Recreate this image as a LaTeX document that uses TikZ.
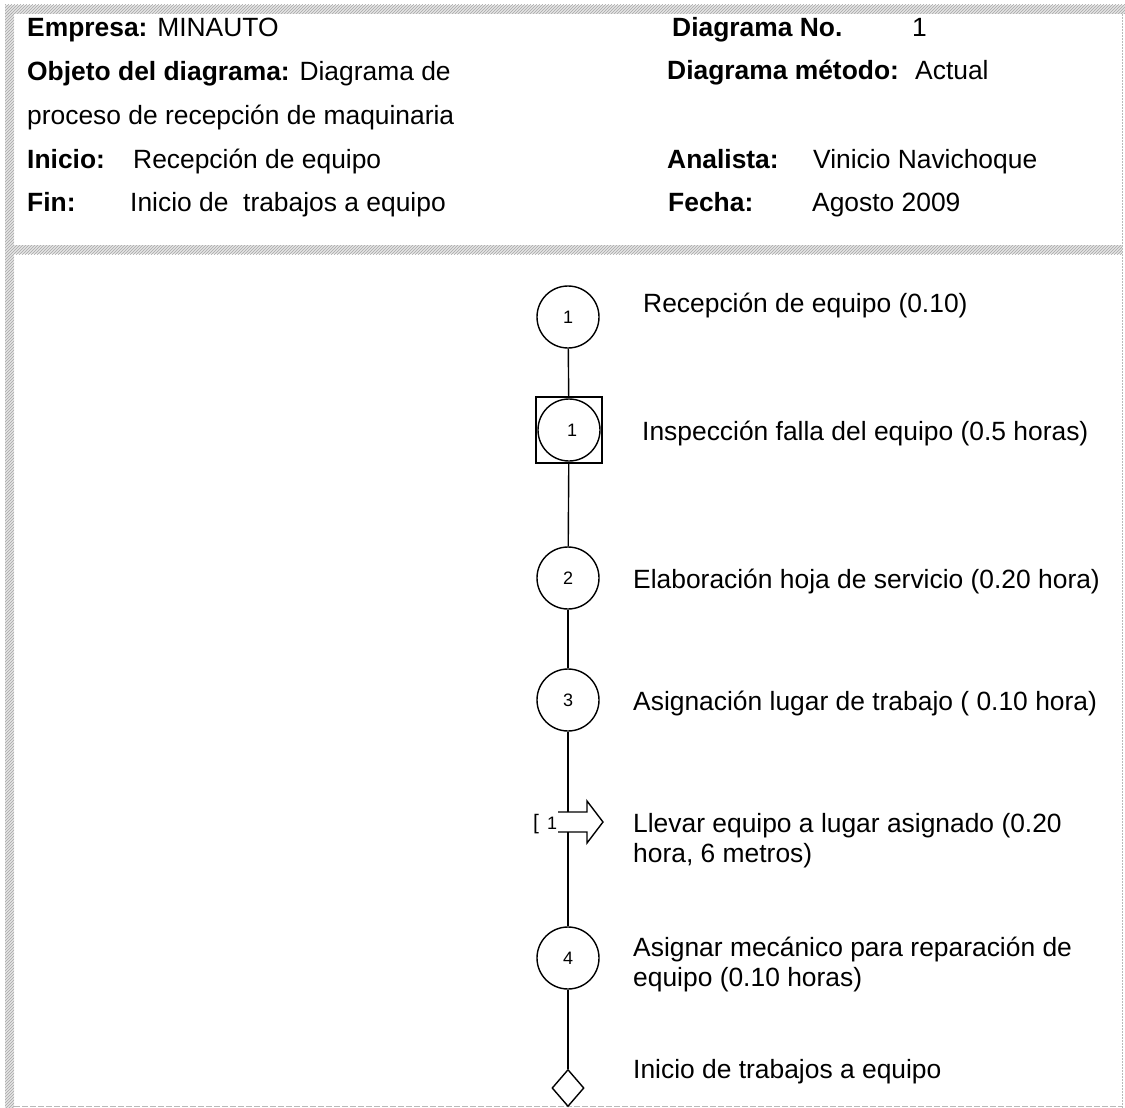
\documentclass[tikz,border=0pt]{standalone}
\usepackage{fontspec}
\setmainfont{Liberation Sans}
\usetikzlibrary{shapes.geometric,patterns}
\begin{document}
\begin{tikzpicture}[x=1pt,y=-1pt,
  lbl/.style={anchor=base west,inner sep=0pt,font=\fontsize{26.4}{30}\selectfont},
  lbl2/.style={anchor=west,inner sep=0pt,align=left,font=\fontsize{26.4}{30}\selectfont},
  opcircle/.style={draw,circle,line width=1.4pt,minimum size=62pt,inner sep=0pt,font=\fontsize{18}{20}\selectfont},
  insbox/.style={draw,rectangle,line width=1.4pt,minimum size=66pt,inner sep=0pt},
  endshape/.style={draw,diamond,line width=1.4pt,minimum width=32pt,minimum height=37pt,inner sep=0pt},
  flow/.style={line width=1.4pt},
  band/.style={preaction={fill=gray!20},pattern=north east lines,pattern color=gray!70},
  numlbl/.style={anchor=base west,inner sep=0pt,font=\fontsize{18}{20}\selectfont}
]
\useasboundingbox (0,0) rectangle (1125,1108);
% frame
\path[band] (5,5) rectangle (1125,14);
\path[band] (5,14) rectangle (14,1108);
\path[band] (14,245) rectangle (1122,254);
\draw[gray!55,dash pattern=on 2pt off 1pt,line width=0.8pt] (1122.5,14) -- (1122.5,1108);
\draw[gray!55,dash pattern=on 6pt off 2pt,line width=0.8pt] (14,1106) -- (1122,1106);

% header
\node[lbl] (h1) at (27,37) {\textbf{Empresa:} MINAUTO};
\node[lbl2] (h2) at (27,96) {\textbf{Objeto del diagrama:} Diagrama de\\[14pt]proceso de recepción de maquinaria};
\node[lbl] (h3k) at (27,168) {\textbf{Inicio:}};
\node[lbl] (h3v) at (133,168) {Recepción de equipo};
\node[lbl] (h4k) at (27,211) {\textbf{Fin:}};
\node[lbl] (h4v) at (130,211) {Inicio de\ \ trabajos a equipo};
\node[lbl] (r1k) at (672,37) {\textbf{Diagrama No.}};
\node[lbl] (r1v) at (912,37) {1};
\node[lbl] (r2k) at (667,80) {\textbf{Diagrama método:}};
\node[lbl] (r2v) at (915,80) {Actual};
\node[lbl] (r3k) at (667,168) {\textbf{Analista:}};
\node[lbl] (r3v) at (813,168) {Vinicio Navichoque};
\node[lbl] (r4k) at (668,211) {\textbf{Fecha:}};
\node[lbl] (r4v) at (812,211) {Agosto 2009};

% flow symbols
\node[opcircle] (c1) at (568,317) {1};
\node[insbox] (i1) at (569,430) {};
\node[opcircle] (i1c) at (569,430) {\hspace{6pt}1};
\node[opcircle] (c2) at (568,578) {2};
\node[opcircle] (c3) at (568,700) {3};
\coordinate (t1a) at (568,812);
\coordinate (t1b) at (568,832);
\node[opcircle] (c4) at (568,958) {4};
\node[endshape] (d1) at (568,1088) {};

% transport arrow
\draw[flow,line join=miter] (558,812) -- (587,812) -- (587,801) -- (603,822) -- (587,843) -- (587,832) -- (558,832);
\node[numlbl] (t1n) at (533,829) {{\fontsize{21}{22}\selectfont[}\hspace{8pt}1};

% connectors
\draw[flow] (c1) -- (i1);
\draw[flow] (i1) -- (c2);
\draw[flow] (c2) -- (c3);
\draw[flow] (c3) -- (t1a);
\draw[flow] (t1b) -- (c4);
\draw[flow] (c4) -- (d1);

% step labels
\node[lbl] (l1) at (643,312) {Recepción de equipo (0.10)};
\node[lbl] (l2) at (642,440) {Inspección falla del equipo (0.5 horas)};
\node[lbl] (l3) at (633,588) {Elaboración hoja de servicio (0.20 hora)};
\node[lbl] (l4) at (633,710) {Asignación lugar de trabajo ( 0.10 hora)};
\node[lbl2] (l5) at (633,841) {Llevar equipo a lugar asignado (0.20\\hora, 6 metros)};
\node[lbl2] (l6) at (633,965) {Asignar mecánico para reparación de\\equipo (0.10 horas)};
\node[lbl] (l7) at (633,1078) {Inicio de trabajos a equipo};
\end{tikzpicture}
\end{document}
